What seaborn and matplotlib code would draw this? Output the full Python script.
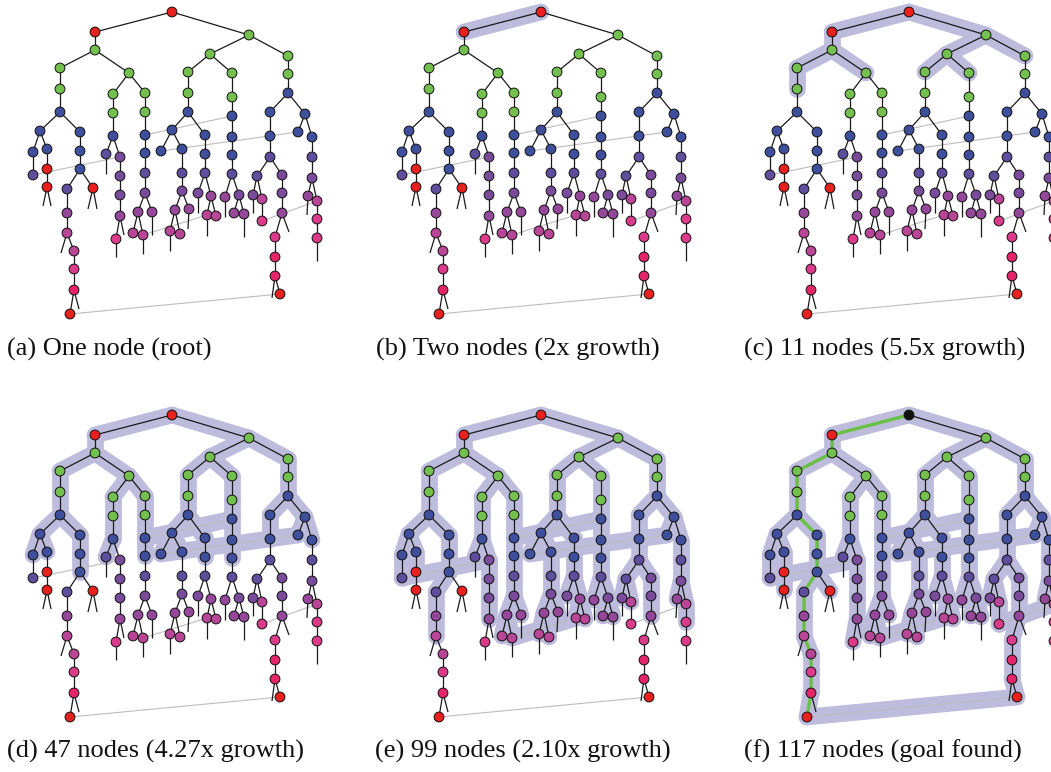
import matplotlib
matplotlib.use("Agg")
import matplotlib.pyplot as plt
from matplotlib.collections import LineCollection
import pandas as pd
import seaborn as sns

# tree nodes (ids 1..100), positions inside one panel, in pixels
node_x = [172, 95, 249, 95, 60, 129, 60, 60, 40, 80,
          33, 47, 33, 47, 47, 80, 80, 67, 93, 67,
          67, 74, 74, 74, 70, 113, 113, 113, 106, 120,
          120, 120, 120, 116, 145, 145, 145, 145, 145, 145,
          138, 152, 133, 143, 210, 188, 232, 188, 188, 172,
          205, 161, 182, 182, 182, 175, 189, 170, 180, 205,
          205, 198, 211, 207, 216, 232, 232, 232, 232, 232,
          225, 239, 234, 244, 288, 288, 288, 270, 305, 270,
          270, 257, 282, 253, 262, 262, 282, 282, 275, 275,
          275, 280, 298, 312, 312, 312, 308, 317, 317, 317]
node_y = [12, 32, 35, 50, 68, 73, 89, 112, 131, 132,
          152, 149, 175, 169, 187, 151, 169, 189, 188, 213,
          233, 251, 269, 290, 314, 94, 113, 136, 154, 157,
          176, 195, 216, 239, 93, 112, 135, 153, 173, 193,
          212, 212, 233, 235, 54, 72, 73, 93, 112, 130,
          135, 151, 149, 173, 191, 210, 209, 231, 234, 154,
          173, 193, 196, 215, 216, 97, 116, 137, 155, 174,
          197, 195, 213, 214, 56, 74, 93, 112, 114, 136,
          157, 176, 175, 195, 199, 221, 193, 213, 237, 257,
          276, 294, 132, 137, 157, 178, 196, 201, 219, 238]
# parent id (0 = none)
parent = [0, 1, 1, 2, 4, 4, 5, 7, 8, 8,
          9, 9, 11, 12, 14, 10, 16, 17, 17, 18,
          20, 21, 22, 23, 24, 6, 26, 27, 28, 28,
          30, 31, 32, 33, 6, 35, 36, 37, 38, 39,
          40, 40, 41, 41, 3, 45, 45, 46, 48, 49,
          49, 50, 50, 53, 54, 55, 55, 56, 56, 51,
          60, 61, 61, 63, 63, 47, 66, 67, 68, 69,
          70, 70, 72, 72, 3, 75, 76, 77, 77, 78,
          80, 81, 81, 82, 82, 85, 83, 87, 88, 89,
          90, 91, 79, 79, 94, 95, 96, 96, 98, 99]
# colour class of each node
level = [0, 0, 1, 1, 1, 1, 1, 2, 2, 2,
         2, 2, 3, 0, 0, 2, 2, 3, 0, 5,
         6, 6, 7, 8, 0, 1, 1, 2, 3, 4,
         4, 4, 5, 7, 1, 1, 2, 2, 3, 4,
         5, 5, 6, 6, 1, 1, 1, 1, 2, 2,
         2, 2, 2, 3, 4, 5, 5, 6, 6, 2,
         3, 4, 5, 6, 6, 1, 2, 2, 2, 3,
         5, 4, 5, 5, 1, 1, 2, 2, 2, 2,
         3, 3, 4, 4, 6, 7, 4, 5, 7, 8,
         8, 0, 2, 2, 3, 4, 5, 6, 7, 7]
# first panel (0=a .. 5=f) in which the node is expanded
first_panel = [0, 1, 2, 2, 2, 2, 2, 3, 3, 3,
               3, 3, 4, 4, 5, 3, 3, 4, 5, 4,
               4, 5, 5, 5, 5, 3, 3, 3, 3, 4,
               4, 4, 4, 5, 3, 3, 3, 3, 4, 4,
               4, 4, 4, 4, 2, 2, 2, 3, 3, 3,
               3, 3, 3, 4, 4, 4, 4, 4, 4, 3,
               4, 4, 4, 4, 4, 3, 3, 3, 3, 4,
               4, 4, 4, 4, 2, 3, 3, 3, 3, 3,
               4, 4, 4, 4, 4, 5, 4, 4, 5, 5,
               5, 5, 3, 3, 4, 4, 4, 4, 4, 5]

# unexpanded children, drawn as short stubs
stub_from = [15, 15, 19, 19, 21, 24, 29, 33, 34, 42, 44, 58, 57, 62, 64, 71, 74, 84, 88, 91, 97, 100]
stub_x = [43, 51, 88, 97, 61, 79, 106, 124, 116, 152, 143, 170, 188, 198, 207, 225, 244, 253, 289, 272, 307, 317]
stub_y = [206, 206, 209, 209, 253, 309, 174, 235, 257, 235, 254, 251, 229, 213, 236, 217, 237, 213, 232, 298, 215, 261]

# extra (non-tree) graph links
link_a = [13, 37, 52, 44, 86, 25]
link_b = [30, 67, 93, 64, 98, 92]

goal_path = [1, 2, 4, 5, 7, 8, 10, 16, 17, 18, 20, 21, 22, 23, 24, 25]

captions = ["(a) One node (root)", "(b) Two nodes (2x growth)", "(c) 11 nodes (5.5x growth)",
            "(d) 47 nodes (4.27x growth)", "(e) 99 nodes (2.10x growth)", "(f) 117 nodes (goal found)"]

palette = {0: "#e8201e", 1: "#73c04f", 2: "#3e4f9d", 3: "#5f4e9d", 4: "#7a4a9b",
           5: "#954799", 6: "#b94597", 7: "#dc3a8b", 8: "#e5256a", 9: "#111111"}

offsets = [(0, 0), (369, 0), (737, 0), (0, 403), (369, 403), (737, 403)]
cap_pos = [(7, 349), (376, 349), (744, 349), (7, 751), (375, 751), (744, 751)]

nodes = pd.DataFrame({"id": range(1, len(node_x) + 1), "x": node_x, "y": node_y,
                      "parent": parent, "level": level, "first": first_panel})

sns.set_theme(style="white")
fig = plt.figure(figsize=(10.51, 7.72), dpi=100)
ax = fig.add_axes([0, 0, 1, 1])
ax.set_xlim(0, 1051)
ax.set_ylim(772, 0)
ax.axis("off")

def xy(i, ox, oy):
    return (node_x[i - 1] + ox, node_y[i - 1] + oy)

for p, (ox, oy) in enumerate(offsets):
    # highlighted region of the search
    band = []
    for _, r in nodes.iterrows():
        if r.parent and r["first"] <= p and first_panel[r.parent - 1] <= p:
            band.append([xy(r.parent, ox, oy), xy(r.id, ox, oy)])
    for a, b in zip(link_a, link_b):
        if first_panel[a - 1] <= p and first_panel[b - 1] <= p:
            band.append([xy(a, ox, oy), xy(b, ox, oy)])
    if band:
        ax.add_collection(LineCollection(band, colors="#bdbcdd", linewidths=12,
                                         capstyle="round", joinstyle="round", zorder=1))

    links = [[xy(a, ox, oy), xy(b, ox, oy)] for a, b in zip(link_a, link_b)]
    ax.add_collection(LineCollection(links, colors="#bdbdbd", linewidths=0.8, zorder=2))

    edges = [[xy(r.parent, ox, oy), xy(r.id, ox, oy)] for _, r in nodes.iterrows() if r.parent]
    edges += [[xy(s, ox, oy), (sx + ox, sy + oy)] for s, sx, sy in zip(stub_from, stub_x, stub_y)]
    ax.add_collection(LineCollection(edges, colors="#1a1a1a", linewidths=0.9, zorder=3))

    df = nodes.assign(px=nodes.x + ox, py=nodes.y + oy)
    if p == 5:
        path = [xy(i, ox, oy) for i in goal_path]
        ax.plot([q[0] for q in path], [q[1] for q in path], color="#6abf45", lw=2.4,
                solid_capstyle="round", zorder=4)
        df.loc[df.id == 1, "level"] = 9
    sns.scatterplot(data=df, x="px", y="py", hue="level", palette=palette,
                    s=50, edgecolor="#111111", linewidth=0.7, legend=False, ax=ax, zorder=5)

    tx, ty = cap_pos[p]
    ax.text(tx, ty, captions[p], fontsize=19, family="Liberation Serif",
            ha="left", va="center", color="#111111")

ax.set_xlim(0, 1051)
ax.set_ylim(772, 0)
ax.set_xlabel("")
ax.set_ylabel("")
fig.savefig("out.png", dpi=100)
